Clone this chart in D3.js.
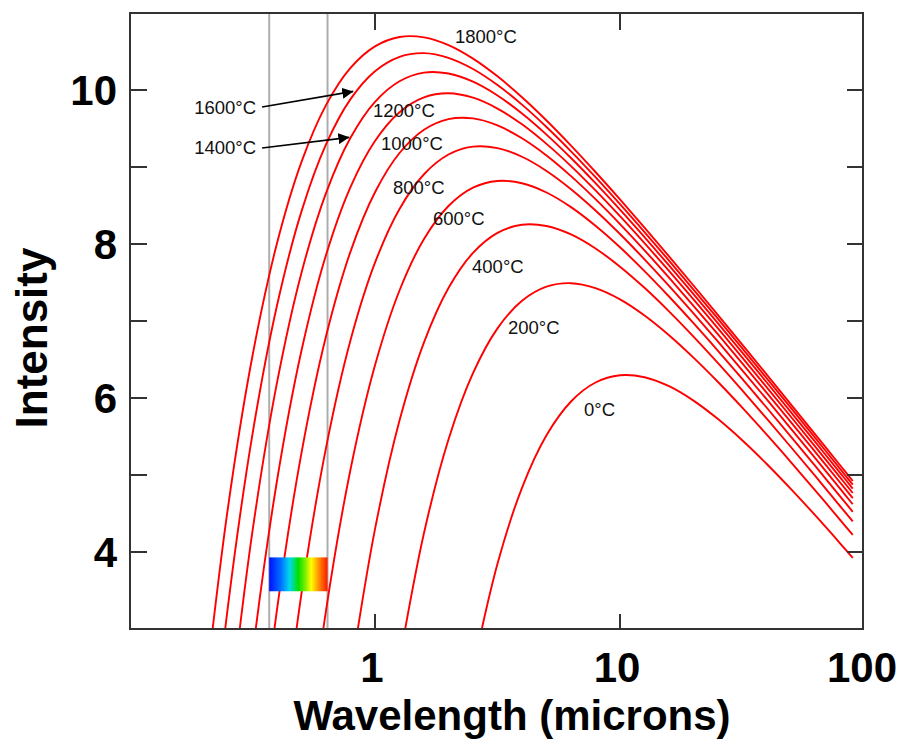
<!DOCTYPE html>
<html><head><meta charset="utf-8">
<script src="https://cdn.jsdelivr.net/npm/d3@7"></script>
<style>body{margin:0;background:#fff} svg{display:block}</style>
</head><body>
<svg id="chart" width="898" height="740"></svg>
<script>
// Wavelength sample points (microns)
const wavelengths = [0.1995, 0.2512, 0.3162, 0.3981, 0.5012, 0.6310, 0.7943, 1, 1.259, 1.585, 1.995, 2.512, 3.162, 3.981, 5.012, 6.310, 7.943, 10, 12.59, 15.85, 19.95, 25.12, 31.62, 39.81, 50.12, 63.10, 79.43, 89.13];

// Intensity (log scale units)
const t0    = [null,null,null,null,null,null,null,null,null,null,null, 2.473, 3.846, 4.834, 5.516, 5.955, 6.201, 6.295, 6.270, 6.153, 5.966, 5.726, 5.448, 5.140, 4.810, 4.465, 4.107, 3.924];
const t200  = [null,null,null,null,null,null,null,null, 2.590, 4.247, 5.461, 6.322, 6.904, 7.263, 7.446, 7.491, 7.427, 7.281, 7.072, 6.816, 6.525, 6.208, 5.872, 5.521, 5.159, 4.788, 4.411, 4.221];
const t400  = [null,null,null,null,null,null, 2.394, 4.297, 5.707, 6.723, 7.428, 7.885, 8.145, 8.250, 8.234, 8.124, 7.942, 7.706, 7.431, 7.125, 6.797, 6.452, 6.095, 5.728, 5.354, 4.975, 4.590, 4.397];
const t600  = [null,null,null,null, 0.801, 3.238, 5.071, 6.424, 7.396, 8.065, 8.494, 8.732, 8.819, 8.789, 8.669, 8.479, 8.237, 7.957, 7.648, 7.318, 6.972, 6.613, 6.245, 5.870, 5.490, 5.105, 4.717, 4.522];
const t800  = [null,null,null, 0.954, 3.462, 5.352, 6.750, 7.757, 8.455, 8.906, 9.162, 9.264, 9.245, 9.133, 8.949, 8.712, 8.436, 8.130, 7.801, 7.456, 7.099, 6.732, 6.357, 5.978, 5.593, 5.206, 4.816, 4.620];
const t1000 = [null,null, 0.560, 3.252, 5.287, 6.801, 7.901, 8.672, 9.182, 9.484, 9.622, 9.631, 9.540, 9.373, 9.149, 8.881, 8.582, 8.259, 7.918, 7.563, 7.198, 6.826, 6.447, 6.064, 5.677, 5.287, 4.896, 4.699];
const t1200 = [null, -0.307, 2.666, 4.925, 6.616, 7.857, 8.740, 9.338, 9.711, 9.905, 9.957, 9.900, 9.759, 9.554, 9.300, 9.012, 8.696, 8.361, 8.011, 7.650, 7.280, 6.903, 6.522, 6.136, 5.747, 5.356, 4.963, 4.766];
const t1400 = [null, 1.713, 4.270, 6.199, 7.628, 8.661, 9.379, 9.846, 10.114, 10.226, 10.214, 10.108, 9.929, 9.695, 9.421, 9.117, 8.790, 8.446, 8.089, 7.722, 7.349, 6.969, 6.585, 6.198, 5.808, 5.416, 5.022, 4.824];
const t1600 = [0.361, 3.300, 5.531, 7.201, 8.424, 9.293, 9.881, 10.244, 10.431, 10.479, 10.418, 10.273, 10.065, 9.810, 9.520, 9.204, 8.868, 8.517, 8.155, 7.785, 7.408, 7.027, 6.641, 6.252, 5.861, 5.468, 5.073, 4.876];
const t1800 = [1.974, 4.581, 6.549, 8.009, 9.066, 9.803, 10.286, 10.566, 10.688, 10.684, 10.583, 10.408, 10.178, 9.906, 9.604, 9.278, 8.935, 8.579, 8.213, 7.840, 7.461, 7.077, 6.690, 6.300, 5.908, 5.515, 5.120, 4.922];

const seriesNames = ["0°C", "200°C", "400°C", "600°C", "800°C", "1000°C", "1200°C", "1400°C", "1600°C", "1800°C"];
const seriesValues = [t0, t200, t400, t600, t800, t1000, t1200, t1400, t1600, t1800];

// Label anchor points in data units [wavelength, intensity]
const labelWavelength = [7.13, 3.49, 2.489, 1.725, 1.184, 1.058, 0.981, 0.327, 0.327, 2.12];
const labelIntensity  = [5.857, 6.922, 7.714, 8.325, 8.740, 9.299, 9.740, 9.247, 9.779, 10.70];
// Arrows for 1400 and 1600 labels: [from wl, from I, to wl, to I]
const arrow1400 = [0.346, 9.247, 0.786, 9.385];
const arrow1600 = [0.346, 9.779, 0.815, 9.982];

const xTickValues = [1, 10, 100];
const yTickValues = [4, 5, 6, 7, 8, 9, 10];
const yLabelValues = [4, 6, 8, 10];
const visibleBand = [0.37, 0.64];
const spectrumIntensity = [3.49, 3.93];

const svg = d3.select("#chart");
const L = 130, R = 863, T = 13, B = 629;
const x = d3.scaleLog().domain([0.1, 100]).range([130, 865]);
const y = d3.scaleLinear().domain([3, 11]).range([629, 13]);
const font = "'Liberation Sans', Arial, Helvetica, sans-serif";
const axisCol = "#333";

const defs = svg.append("defs");
defs.append("clipPath").attr("id", "clip").append("rect")
  .attr("x", L).attr("y", T).attr("width", R - L).attr("height", B - T);
const grad = defs.append("linearGradient").attr("id", "spec").attr("x1", "0%").attr("x2", "100%");
[[0, "#0010ff"], [0.2, "#0070ff"], [0.35, "#00d8f0"], [0.5, "#00e000"], [0.62, "#80ee00"], [0.72, "#ffff00"], [0.85, "#ff9000"], [1, "#ff1800"]]
  .forEach(([o, c]) => grad.append("stop").attr("offset", o).attr("stop-color", c));
defs.append("marker").attr("id", "arr").attr("viewBox", "0 0 10 10")
  .attr("refX", 10).attr("refY", 5).attr("markerWidth", 11).attr("markerHeight", 11)
  .attr("markerUnits", "userSpaceOnUse").attr("orient", "auto")
  .append("path").attr("d", "M0,0 L10,5 L0,10 Z").attr("fill", "#000");

// visible band gray lines
svg.append("g").selectAll("line").data(visibleBand).join("line")
  .attr("x1", d => x(d)).attr("x2", d => x(d)).attr("y1", T).attr("y2", B)
  .attr("stroke", "#adadad").attr("stroke-width", 2);

// curves
const line = d3.line()
  .defined(d => d[1] !== null)
  .x(d => x(d[0])).y(d => y(d[1]))
  .curve(d3.curveCatmullRom.alpha(0.5));
svg.append("g").attr("clip-path", "url(#clip)")
  .selectAll("path").data(seriesValues).join("path")
  .attr("d", vals => line(wavelengths.map((w, i) => [w, vals[i]])))
  .attr("fill", "none").attr("stroke", "#ff0000").attr("stroke-width", 1.9);

// spectrum box
svg.append("rect")
  .attr("x", x(visibleBand[0])).attr("width", x(visibleBand[1]) - x(visibleBand[0]))
  .attr("y", y(spectrumIntensity[1])).attr("height", y(spectrumIntensity[0]) - y(spectrumIntensity[1]))
  .attr("fill", "url(#spec)");

// frame
svg.append("rect").attr("x", L).attr("y", T).attr("width", R - L).attr("height", B - T)
  .attr("fill", "none").attr("stroke", axisCol).attr("stroke-width", 2);

// ticks
const tg = svg.append("g").attr("stroke", axisCol).attr("stroke-width", 2);
yTickValues.forEach(v => {
  tg.append("line").attr("x1", L).attr("x2", L + 17).attr("y1", y(v)).attr("y2", y(v));
  tg.append("line").attr("x1", R).attr("x2", R - 16).attr("y1", y(v)).attr("y2", y(v));
});
xTickValues.filter(v => x(v) < R - 2).forEach(v => {
  tg.append("line").attr("x1", x(v)).attr("x2", x(v)).attr("y1", B).attr("y2", B - 15);
  tg.append("line").attr("x1", x(v)).attr("x2", x(v)).attr("y1", T).attr("y2", T + 17);
});

// tick labels
svg.append("g").selectAll("text").data(yLabelValues).join("text")
  .attr("x", 117).attr("y", d => y(d) + 15).attr("text-anchor", "end")
  .attr("font-family", font).attr("font-weight", "bold").attr("font-size", 42).text(d => d);
svg.append("g").selectAll("text").data(xTickValues).join("text")
  .attr("x", d => x(d) - 3).attr("y", 682).attr("text-anchor", "middle")
  .attr("font-family", font).attr("font-weight", "bold").attr("font-size", 42).text(d => d);

// axis titles
svg.append("text").attr("transform", "translate(47,338) rotate(-90)").attr("text-anchor", "middle")
  .attr("font-family", font).attr("font-weight", "bold").attr("font-size", 44).text("Intensity");
svg.append("text").attr("x", 512).attr("y", 730).attr("text-anchor", "middle")
  .attr("font-family", font).attr("font-weight", "bold").attr("font-size", 42).text("Wavelength (microns)");

// arrows
[arrow1400, arrow1600].forEach(a => {
  svg.append("line").attr("x1", x(a[0])).attr("y1", y(a[1])).attr("x2", x(a[2])).attr("y2", y(a[3]))
    .attr("stroke", "#000").attr("stroke-width", 1.6).attr("marker-end", "url(#arr)");
});

// curve labels
svg.append("g").selectAll("text").data(seriesNames).join("text")
  .attr("x", (d, i) => x(labelWavelength[i]))
  .attr("y", (d, i) => y(labelIntensity[i]) + 6.5)
  .attr("text-anchor", (d, i) => (i === 7 || i === 8) ? "end" : "start")
  .attr("font-family", font).attr("font-size", 18.5).attr("fill", "#111")
  .text(d => d);
</script>
</body></html>
